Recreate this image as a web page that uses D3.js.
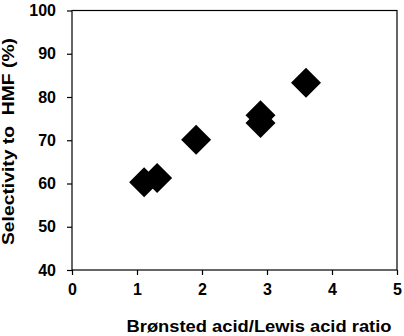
<!DOCTYPE html>
<html>
<head>
<meta charset="utf-8">
<script src="https://cdn.jsdelivr.net/npm/d3@7"></script>
<style>
  body { margin: 0; background: #fff; }
  text { font-family: "Liberation Sans", Arial, sans-serif; font-weight: bold; fill: #000; }
</style>
</head>
<body>
<div id="vis"></div>
<script>
// data
const ratio = [1.11, 1.31, 1.91, 2.90, 2.90, 3.60];
const selectivity = [60.3, 61.3, 70.1, 75.8, 74.0, 83.3];
const xTicks = [0, 1, 2, 3, 4, 5];
const yTicks = [40, 50, 60, 70, 80, 90, 100];

const FRAME_WIDTH = 404;
const FRAME_HEIGHT = 336;
const MARGINS = {left: 72, right: 7, top: 10.5, bottom: 66};

const VIS_WIDTH = FRAME_WIDTH - MARGINS.left - MARGINS.right;
const VIS_HEIGHT = FRAME_HEIGHT - MARGINS.top - MARGINS.bottom;

const svg = d3.select("#vis")
  .append("svg")
    .attr("width", FRAME_WIDTH)
    .attr("height", FRAME_HEIGHT);

const X_SCALE = d3.scaleLinear().domain([0, 5]).range([0, VIS_WIDTH]);
const Y_SCALE = d3.scaleLinear().domain([40, 100]).range([VIS_HEIGHT, 0]);

const plot = svg.append("g")
  .attr("transform", "translate(" + MARGINS.left + "," + MARGINS.top + ")");

// frame box
plot.append("rect")
  .attr("x", 0).attr("y", 0)
  .attr("width", VIS_WIDTH).attr("height", VIS_HEIGHT)
  .attr("fill", "none").attr("stroke", "#000").attr("stroke-width", 1.2);

// x axis
const xAxis = plot.append("g")
  .attr("transform", "translate(0," + VIS_HEIGHT + ")")
  .call(d3.axisBottom(X_SCALE).tickValues(xTicks).tickSize(5).tickPadding(9).tickFormat(d3.format("d")));
xAxis.select(".domain").remove();
xAxis.selectAll("line").attr("stroke-width", 1.2);
xAxis.selectAll("text").style("font-size", "16px").style("font-family", "Liberation Sans, Arial, sans-serif").style("font-weight", "bold");

// y axis
const yAxis = plot.append("g")
  .call(d3.axisLeft(Y_SCALE).tickValues(yTicks).tickSize(5).tickPadding(11).tickFormat(d3.format("d")));
yAxis.select(".domain").remove();
yAxis.selectAll("line").attr("stroke-width", 1.2);
yAxis.selectAll("text").style("font-size", "16px").style("font-family", "Liberation Sans, Arial, sans-serif").style("font-weight", "bold");

// diamonds
const diamond = d3.symbol().type(d3.symbolSquare).size(450);
plot.selectAll(".pt")
  .data(ratio.map((r, i) => ({x: r, y: selectivity[i]})))
  .enter()
  .append("path")
    .attr("class", "pt")
    .attr("d", diamond)
    .attr("fill", "#000")
    .attr("transform", (d) => "translate(" + X_SCALE(d.x) + "," + Y_SCALE(d.y) + ") rotate(45)");

// axis titles
svg.append("text")
  .attr("x", 126.5).attr("y", 331.5)
  .attr("textLength", 265)
  .attr("lengthAdjust", "spacingAndGlyphs")
  .style("font-size", "16px")
  .text("Brønsted acid/Lewis acid ratio");

svg.append("text")
  .attr("transform", "translate(14,245) rotate(-90)")
  .attr("textLength", 207)
  .attr("lengthAdjust", "spacingAndGlyphs")
  .style("font-size", "17px")
  .style("white-space", "pre")
  .text("Selectivity to  HMF (%)");
</script>
</body>
</html>
